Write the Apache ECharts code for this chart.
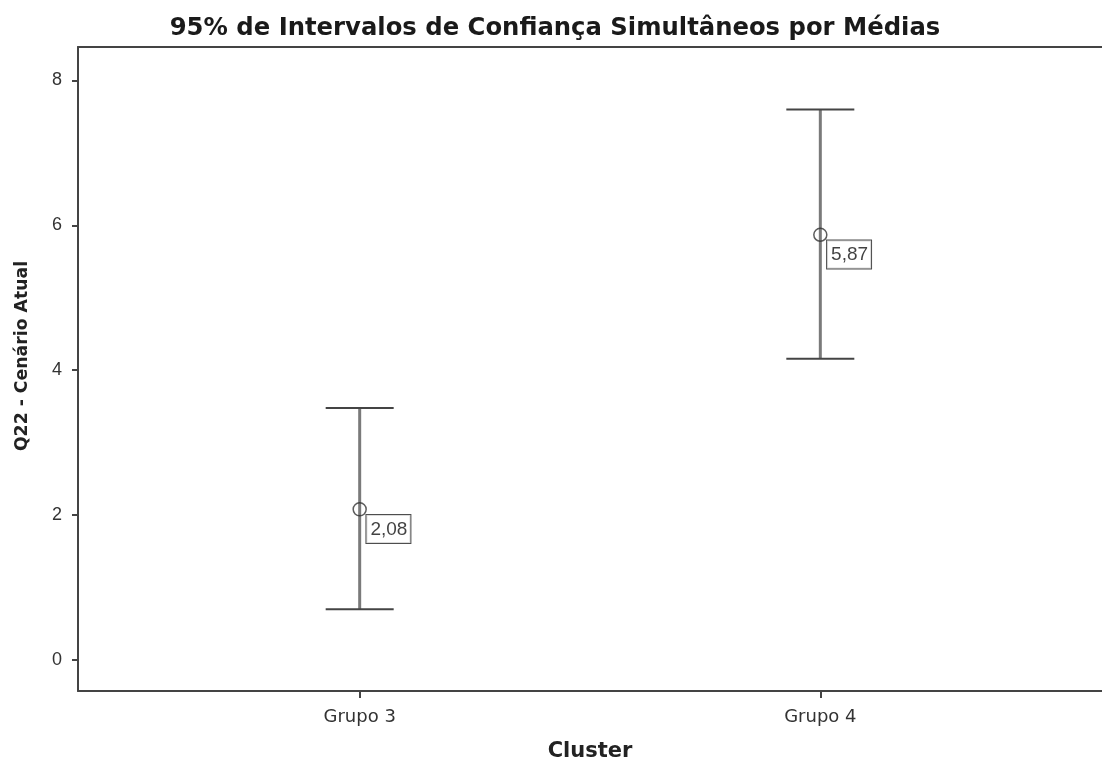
<!DOCTYPE html>
<html>
<head>
<meta charset="utf-8">
<script src="https://cdn.jsdelivr.net/npm/echarts@6/dist/echarts.min.js"></script>
<style>
html,body{margin:0;padding:0;background:#fff;}
#chart{width:1102px;height:761px;}
</style>
</head>
<body>
<div id="chart"></div>
<script>
const categories = ['Grupo 3', 'Grupo 4'];
const means = [2.08, 5.87];
const lower = [0.70, 4.16];
const upper = [3.48, 7.60];
const meanLabels = ['2,08', '5,87'];
const yTicks = [0, 2, 4, 6, 8];
const xPositions = [1, 2];

const titleText = '95% de Intervalos de Confiança Simultâneos por Médias';
const yTitle = 'Q22 - Cenário Atual';
const xTitle = 'Cluster';

const chart = echarts.init(document.getElementById('chart'), null, {renderer: 'canvas'});

const barData = categories.map((c, i) => [xPositions[i], lower[i], upper[i]]);
const meanData = categories.map((c, i) => ({value: [xPositions[i], means[i]], label: {formatter: meanLabels[i]}}));

const X_MIN = 0.3885, X_MAX = 2.6115, Y_MIN = -0.428, Y_MAX = 8.462;
const axisColor = '#444';

const option = {
  backgroundColor: '#ffffff',
  animation: false,
  title: {
    text: titleText,
    left: 550,
    textAlign: 'center',
    top: 12,
    textStyle: {fontFamily: 'DejaVu Sans', fontWeight: 'bold', fontSize: 24.3, color: '#1a1a1a'}
  },
  graphic: [
    {
      type: 'text',
      x: 23, y: 356,
      rotation: Math.PI / 2,
      style: {text: yTitle, fontFamily: 'DejaVu Sans', fontWeight: 'bold', fontSize: 17.3, fill: '#222', align: 'center', verticalAlign: 'middle'}
    }
  ],
  grid: {left: 78, right: 0, top: 47, bottom: 70, show: false, containLabel: false, outerBoundsMode: 'none'},
  xAxis: [
    {
      type: 'value',
      min: X_MIN,
      max: X_MAX,
      splitLine: {show: false},
      axisLine: {show: true, onZero: false, lineStyle: {color: axisColor, width: 2}},
      axisTick: {show: true, length: 7, lineStyle: {color: axisColor, width: 2}, customValues: xPositions},
      axisLabel: {
        customValues: xPositions,
        margin: 17,
        fontFamily: 'DejaVu Sans', fontSize: 18, color: '#333',
        formatter: v => categories[xPositions.indexOf(Math.round(v))] || ''
      },
      name: xTitle,
      nameLocation: 'middle',
      nameGap: 50,
      nameTextStyle: {fontFamily: 'DejaVu Sans', fontWeight: 'bold', fontSize: 21, color: '#222'}
    },
    {
      type: 'value',
      position: 'top',
      min: X_MIN,
      max: X_MAX,
      splitLine: {show: false},
      axisLine: {show: true, onZero: false, lineStyle: {color: axisColor, width: 2}},
      axisTick: {show: false},
      axisLabel: {show: false}
    }
  ],
  yAxis: [
    {
      type: 'value',
      min: Y_MIN,
      max: Y_MAX,
      splitLine: {show: false},
      axisLine: {show: true, onZero: false, lineStyle: {color: axisColor, width: 2}},
      axisTick: {show: true, length: 6, lineStyle: {color: axisColor, width: 2}, customValues: yTicks},
      axisLabel: {
        customValues: yTicks,
        margin: 16,
        fontFamily: 'Liberation Sans', fontSize: 18, color: '#333'
      }
    },
    {
      type: 'value',
      position: 'right',
      min: Y_MIN,
      max: Y_MAX,
      splitLine: {show: false},
      axisLine: {show: true, onZero: false, lineStyle: {color: '#d8d8d8', width: 1}},
      axisTick: {show: false},
      axisLabel: {show: false}
    }
  ],
  series: [
    {
      type: 'custom',
      data: barData,
      renderItem: function (params, api) {
        const x = api.value(0);
        const lo = api.coord([x, api.value(1)]);
        const hi = api.coord([x, api.value(2)]);
        const hw = 34;
        return {
          type: 'group',
          children: [
            {type: 'line', shape: {x1: lo[0], y1: lo[1], x2: hi[0], y2: hi[1]}, style: {stroke: '#7a7a7a', lineWidth: 3}},
            {type: 'line', shape: {x1: hi[0] - hw, y1: hi[1], x2: hi[0] + hw, y2: hi[1]}, style: {stroke: '#444', lineWidth: 2}},
            {type: 'line', shape: {x1: lo[0] - hw, y1: lo[1], x2: lo[0] + hw, y2: lo[1]}, style: {stroke: '#444', lineWidth: 2}}
          ]
        };
      },
      z: 2
    },
    {
      type: 'scatter',
      data: meanData,
      symbol: 'circle',
      symbolSize: 13,
      itemStyle: {color: 'rgba(255,255,255,0)', borderColor: '#333', borderWidth: 1.5},
      label: {
        show: true,
        position: [14, 13],
        align: 'left',
        verticalAlign: 'top',
        fontFamily: 'Liberation Sans',
        fontSize: 19,
        color: '#111',
        backgroundColor: '#fff',
        borderColor: '#222',
        borderWidth: 1,
        padding: [5, 3, 4, 4]
      },
      z: 3
    }
  ]
};
chart.setOption(option);
</script>
</body>
</html>
